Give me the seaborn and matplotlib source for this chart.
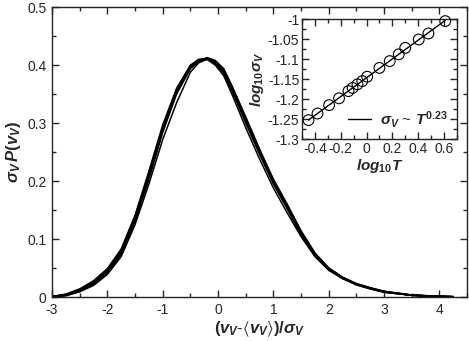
import numpy as np
import pandas as pd
import seaborn as sns
import matplotlib.pyplot as plt
from matplotlib.ticker import MultipleLocator

# scaled velocity grid shared by all runs
xv = [-3.0, -2.75, -2.5, -2.25, -2.0, -1.75, -1.5, -1.25, -1.0, -0.75, -0.5, -0.35, -0.2, -0.05, 0.1,
      0.25, 0.5, 0.75, 1.0, 1.25, 1.5, 1.75, 2.0, 2.25, 2.5, 2.75, 3.0, 3.5, 4.0, 4.25]

run1 = [0.0005, 0.004, 0.012, 0.025, 0.045, 0.078, 0.135, 0.21, 0.29, 0.355, 0.397, 0.408, 0.412, 0.405, 0.39,
        0.36, 0.305, 0.25, 0.198, 0.155, 0.11, 0.072, 0.048, 0.033, 0.022, 0.015, 0.009, 0.003, 0.001, 0.0005]
run2 = [0.001, 0.005, 0.014, 0.028, 0.049, 0.083, 0.141, 0.217, 0.297, 0.36, 0.4, 0.41, 0.411, 0.402, 0.386,
        0.356, 0.3, 0.246, 0.195, 0.152, 0.107, 0.07, 0.046, 0.032, 0.021, 0.014, 0.008, 0.003, 0.001, 0.0004]
run3 = [0.0003, 0.003, 0.010, 0.022, 0.042, 0.074, 0.13, 0.203, 0.284, 0.35, 0.394, 0.406, 0.413, 0.408, 0.394,
        0.364, 0.31, 0.255, 0.202, 0.158, 0.113, 0.075, 0.05, 0.034, 0.023, 0.016, 0.01, 0.0035, 0.0012, 0.0006]
run4 = [0.0002, 0.002, 0.009, 0.02, 0.039, 0.07, 0.125, 0.195, 0.272, 0.335, 0.388, 0.404, 0.41, 0.406, 0.391,
        0.36, 0.303, 0.248, 0.197, 0.153, 0.108, 0.071, 0.047, 0.032, 0.022, 0.015, 0.009, 0.003, 0.001, 0.0005]
run5 = [0.0006, 0.004, 0.013, 0.026, 0.047, 0.08, 0.138, 0.214, 0.293, 0.358, 0.399, 0.409, 0.41, 0.4, 0.382,
        0.35, 0.292, 0.238, 0.188, 0.145, 0.104, 0.07, 0.047, 0.033, 0.022, 0.015, 0.009, 0.003, 0.001, 0.0005]
run6 = [0.0004, 0.0035, 0.011, 0.024, 0.044, 0.077, 0.133, 0.208, 0.288, 0.353, 0.396, 0.407, 0.412, 0.406, 0.392,
        0.362, 0.307, 0.252, 0.2, 0.157, 0.112, 0.074, 0.049, 0.033, 0.022, 0.015, 0.009, 0.003, 0.001, 0.0005]
run7 = [0.0007, 0.0045, 0.013, 0.027, 0.047, 0.081, 0.139, 0.213, 0.292, 0.357, 0.398, 0.409, 0.412, 0.404, 0.388,
        0.358, 0.303, 0.249, 0.197, 0.154, 0.109, 0.071, 0.047, 0.032, 0.021, 0.014, 0.0085, 0.003, 0.001, 0.0004]
run8 = [0.0005, 0.004, 0.0115, 0.0245, 0.0455, 0.079, 0.136, 0.211, 0.291, 0.354, 0.395, 0.407, 0.411, 0.406, 0.393,
        0.364, 0.31, 0.254, 0.203, 0.16, 0.114, 0.076, 0.05, 0.034, 0.023, 0.016, 0.0095, 0.0035, 0.0012, 0.0006]
runs = [run1, run2, run3, run4, run5, run6, run7, run8]

# inset: log10 T vs log10 sigma_V
logT = [-0.45, -0.38, -0.29, -0.213, -0.14, -0.108, -0.07, -0.033, 0.005, 0.10, 0.18, 0.25, 0.30, 0.405, 0.48, 0.61]
logsig = [-1.2525, -1.236, -1.215, -1.198, -1.18, -1.172, -1.163, -1.155, -1.144, -1.122, -1.105, -1.088,
          -1.072, -1.051, -1.036, -1.005]

sns.set_theme(style='ticks')
plt.rcParams['font.family'] = ['Liberation Sans', 'DejaVu Sans']
plt.rcParams['axes.unicode_minus'] = False
plt.rcParams['mathtext.fontset'] = 'custom'
plt.rcParams['mathtext.it'] = 'Liberation Sans:italic:bold'
plt.rcParams['mathtext.rm'] = 'Liberation Sans:bold'
plt.rcParams['mathtext.bf'] = 'Liberation Sans:bold'
plt.rcParams['mathtext.fallback'] = 'stixsans'

df = pd.concat([pd.DataFrame({'x': xv, 'p': r, 'run': i}) for i, r in enumerate(runs)])

fig = plt.figure(figsize=(4.69, 3.41), dpi=100)
ax = fig.add_axes([0.111, 0.129, 0.885, 0.850])
sns.lineplot(data=df, x='x', y='p', units='run', estimator=None, color='black', lw=1.1, ax=ax, legend=False)
ax.set_xlim(-3, 4.5)
ax.set_ylim(0, 0.5)
ax.xaxis.set_major_locator(MultipleLocator(1))
ax.xaxis.set_minor_locator(MultipleLocator(0.5))
ax.set_yticks([0, 0.1, 0.2, 0.3, 0.4, 0.5], ['0', '0.1', '0.2', '0.3', '0.4', '0.5'])
ax.yaxis.set_minor_locator(MultipleLocator(0.05))
ax.tick_params(which='both', direction='in', top=True, right=True, labelsize=10, width=1)
ax.tick_params(axis='x', pad=4)
ax.tick_params(axis='y', pad=4)
ax.tick_params(which='major', length=5)
ax.tick_params(which='minor', length=3)
ax.set_xlabel(r'$(v_V$-$\langle v_V\rangle)/\sigma_V$', fontsize=12, labelpad=2)
ax.set_ylabel(r'$\sigma_V\,P(v_V)$', fontsize=12, labelpad=3)
for s in ax.spines.values():
    s.set_linewidth(1)
    s.set_color('#222222')

# inset
ins = fig.add_axes([0.644, 0.592, 0.330, 0.352])
coef = np.polyfit(logT, logsig, 1)
fitx = np.array([logT[0], logT[-1]])
sns.lineplot(x=fitx, y=np.polyval(coef, fitx), color='black', lw=1.0, ax=ins,
             label=r'$\sigma_V$ ~ $T^{0.23}$')
sns.scatterplot(x=logT, y=logsig, marker='o', s=60, facecolor='none', edgecolor='black', linewidth=0.8,
                ax=ins, clip_on=False, zorder=3)
ins.set_xlim(-0.5, 0.7)
ins.set_ylim(-1.3, -1.0)
ins.set_xticks([-0.4, -0.2, 0, 0.2, 0.4, 0.6], ['-0.4', '-0.2', '0', '0.2', '0.4', '0.6'])
ins.xaxis.set_minor_locator(MultipleLocator(0.1))
ins.set_yticks([-1.3, -1.25, -1.2, -1.15, -1.1, -1.05, -1.0],
               ['-1.3', '-1.25', '-1.2', '-1.15', '-1.1', '-1.05', '-1'])
ins.yaxis.set_minor_locator(MultipleLocator(0.025))
ins.tick_params(which='both', direction='in', top=True, right=True, labelsize=10, width=1, pad=2)
ins.tick_params(which='major', length=5)
ins.tick_params(which='minor', length=3)
ins.set_xlabel(r'$log_{10}T$', fontsize=11, labelpad=1)
ins.set_ylabel(r'$log_{10}\sigma_V$', fontsize=11, labelpad=1)
for s in ins.spines.values():
    s.set_linewidth(1)
    s.set_color('#222222')
ins.legend(loc='lower right', frameon=False, fontsize=11, handlelength=1.5, handletextpad=0.6,
           borderaxespad=0.2)

fig.savefig('out.png', dpi=100)
